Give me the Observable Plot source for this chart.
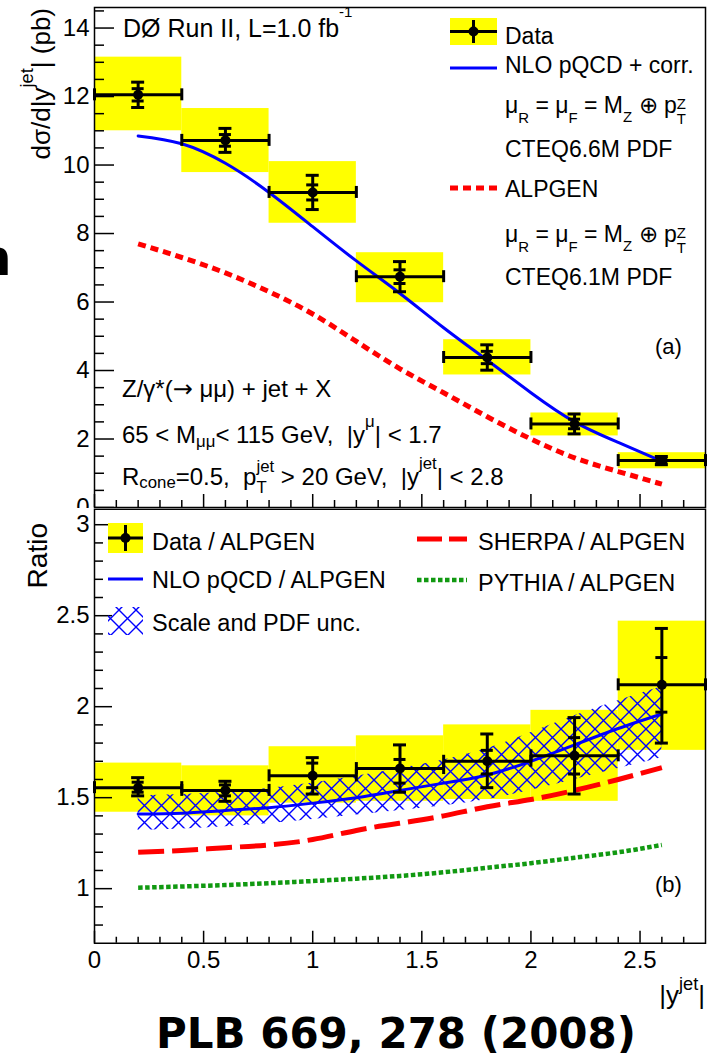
<!DOCTYPE html>
<html><head><meta charset="utf-8">
<script src="https://cdn.jsdelivr.net/npm/d3@7"></script>
<script src="https://cdn.jsdelivr.net/npm/@observablehq/plot@0.6"></script>
<style>
html,body{margin:0;padding:0;background:#fff;}
#wrap{position:relative;width:719px;height:1053px;overflow:hidden;background:#fff;}
#wrap svg{position:absolute;left:0;}
</style></head><body><div id="wrap"></div>
<script>
// ---------------- data ----------------
const binCenters = [0.2, 0.6, 1.0, 1.4, 1.8, 2.2, 2.6];
const binHalfWidth = 0.2;
// panel (a): dsigma/d|y_jet| (pb)
const xsecData  = [12.05, 10.72, 9.2, 6.74, 4.38, 2.44, 1.37];
const xsecStat  = [0.18, 0.17, 0.22, 0.2, 0.18, 0.14, 0.06];
const xsecTot   = [0.37, 0.35, 0.5, 0.44, 0.37, 0.29, 0.12];
const xsecSysLo = [11.0, 9.78, 8.3, 5.98, 3.87, 2.09, 1.13];
const xsecSysHi = [13.15, 11.65, 10.1, 7.44, 4.9, 2.76, 1.6];
const curveX     = [0.2, 0.4, 0.6, 0.8, 1.0, 1.2, 1.4, 1.6, 1.8, 2.0, 2.2, 2.4, 2.6];
const nloXsec    = [10.85, 10.62, 10.05, 9.2, 8.2, 7.2, 6.25, 5.25, 4.3, 3.35, 2.5, 1.9, 1.35];
const alpgenXsec = [7.7, 7.3, 6.85, 6.3, 5.65, 4.85, 4.05, 3.35, 2.65, 2.0, 1.45, 1.05, 0.68];
// panel (b): ratios to ALPGEN
const ratioData   = [1.555, 1.54, 1.62, 1.66, 1.70, 1.73, 2.12];
const ratioTotLo  = [1.51, 1.48, 1.52, 1.53, 1.555, 1.52, 1.80];
const ratioTotHi  = [1.61, 1.59, 1.72, 1.79, 1.85, 1.94, 2.43];
const ratioStatLo = [1.53, 1.51, 1.555, 1.58, 1.63, 1.63, 1.97];
const ratioStatHi = [1.585, 1.57, 1.69, 1.71, 1.76, 1.83, 2.27];
const ratioSysLo  = [1.42, 1.40, 1.47, 1.48, 1.49, 1.48, 1.76];
const ratioSysHi  = [1.69, 1.675, 1.78, 1.84, 1.90, 1.98, 2.47];
const nloRatio    = [1.41, 1.415, 1.43, 1.445, 1.47, 1.50, 1.54, 1.58, 1.625, 1.70, 1.79, 1.88, 1.96];
const uncBandLo   = [1.32, 1.34, 1.38, 1.43, 1.49, 1.60, 1.72];
const uncBandHi   = [1.51, 1.53, 1.58, 1.66, 1.77, 1.95, 2.11];
const sherpaRatio = [1.20, 1.21, 1.225, 1.24, 1.27, 1.32, 1.36, 1.40, 1.45, 1.49, 1.54, 1.60, 1.665];
const pythiaRatio = [1.005, 1.012, 1.02, 1.03, 1.042, 1.055, 1.07, 1.09, 1.115, 1.14, 1.17, 1.20, 1.24];
// ticks
const xMajorTicks = [0, 0.5, 1, 1.5, 2, 2.5];
const xMinorTicks = [0.1,0.2,0.3,0.4,0.6,0.7,0.8,0.9,1.1,1.2,1.3,1.4,1.6,1.7,1.8,1.9,2.1,2.2,2.3,2.4,2.6,2.7];
const topYMajor = [0, 2, 4, 6, 8, 10, 12, 14];
const topYMinor = [0.5,1,1.5,2.5,3,3.5,4.5,5,5.5,6.5,7,7.5,8.5,9,9.5,10.5,11,11.5,12.5,13,13.5,14.5];
const botYMajor = [1, 1.5, 2, 2.5, 3];
const botYMinor = [0.8,0.9,1.1,1.2,1.3,1.4,1.6,1.7,1.8,1.9,2.1,2.2,2.3,2.4,2.6,2.7,2.8,2.9];

// ---------------- layout ----------------
const W = 719, ML = 94, MR = 14;
const PW = W - ML - MR;
const FONT = "'Liberation Sans', Arial, Helvetica, sans-serif";
const DEJAVU = "'DejaVu Sans', sans-serif";
const YELLOW = "#ffff00", BLUE = "#0000ff", RED = "#ff0000", GREEN = "#119911";
const fmt = d => String(d);
const wrap = document.getElementById("wrap");

const topRows = binCenters.map((x, i) => ({
  x, xlo: x - binHalfWidth, xhi: x + binHalfWidth, y: xsecData[i],
  totLo: xsecData[i] - xsecTot[i], totHi: xsecData[i] + xsecTot[i],
  statLo: xsecData[i] - xsecStat[i], statHi: xsecData[i] + xsecStat[i],
  sysLo: xsecSysLo[i], sysHi: xsecSysHi[i]
}));
const botRows = binCenters.map((x, i) => ({
  x, xlo: x - binHalfWidth, xhi: x + binHalfWidth, y: ratioData[i],
  totLo: ratioTotLo[i], totHi: ratioTotHi[i], statLo: ratioStatLo[i], statHi: ratioStatHi[i],
  sysLo: ratioSysLo[i], sysHi: ratioSysHi[i]
}));
const topCurves = curveX.map((x, i) => ({x, nlo: nloXsec[i], alp: alpgenXsec[i]}));
const botCurves = curveX.map((x, i) => ({x, nlo: nloRatio[i], sherpa: sherpaRatio[i], pythia: pythiaRatio[i]}));
const bandRows = binCenters.map((x, i) => ({x, lo: uncBandLo[i], hi: uncBandHi[i]}));

function sysBoxes(rows) {
  return Plot.rect(rows, {x1: "xlo", x2: "xhi", y1: "sysLo", y2: "sysHi", fill: YELLOW});
}
function errorMarks(rows) {
  const k = {stroke: "black", strokeWidth: 3};
  return [
    Plot.ruleY(rows, {y: "y", x1: "xlo", x2: "xhi", ...k}),
    Plot.ruleX(rows, {x: "xlo", y1: "y", y2: "y", insetTop: -6, insetBottom: -6, ...k}),
    Plot.ruleX(rows, {x: "xhi", y1: "y", y2: "y", insetTop: -6, insetBottom: -6, ...k}),
    Plot.ruleX(rows, {x: "x", y1: "totLo", y2: "totHi", ...k}),
    Plot.ruleY(rows, {y: "totHi", x1: "x", x2: "x", insetLeft: -6.5, insetRight: -6.5, ...k}),
    Plot.ruleY(rows, {y: "totLo", x1: "x", x2: "x", insetLeft: -6.5, insetRight: -6.5, ...k}),
    Plot.ruleY(rows, {y: "statHi", x1: "x", x2: "x", insetLeft: -6, insetRight: -6, ...k}),
    Plot.ruleY(rows, {y: "statLo", x1: "x", x2: "x", insetLeft: -6, insetRight: -6, ...k}),
    Plot.dot(rows, {x: "x", y: "y", r: 5, fill: "black", stroke: "none"})
  ];
}

// ---------------- panel (a) ----------------
const TOP_H = 509, TOP_MT = 7, TOP_MB = 2;
const TOP_PH = TOP_H - TOP_MT - TOP_MB;
const topSvg = Plot.plot({
  width: W, height: TOP_H, marginLeft: ML, marginRight: MR, marginTop: TOP_MT, marginBottom: TOP_MB,
  style: {fontFamily: FONT, fontSize: "24px", background: "white", color: "black", overflow: "hidden"},
  x: {domain: [0, 2.8], axis: null},
  y: {domain: [0, 14.6], ticks: topYMajor, tickFormat: fmt, tickSize: 0, tickPadding: 5, label: null},
  marks: [
    sysBoxes(topRows),
    Plot.line(topCurves, {x: "x", y: "alp", stroke: RED, strokeWidth: 5, strokeDasharray: "8,5", strokeLinecap: "butt", curve: "natural"}),
    Plot.line(topCurves, {x: "x", y: "nlo", stroke: BLUE, strokeWidth: 3, curve: "natural"}),
    ...errorMarks(topRows),
    Plot.tickY(topYMajor, {y: d => d, insetRight: PW - 20, strokeWidth: 1.5}),
    Plot.tickY(topYMinor, {y: d => d, insetRight: PW - 10, strokeWidth: 1.5}),
    Plot.tickX(xMajorTicks, {x: d => d, insetTop: TOP_PH - 13, strokeWidth: 1.5}),
    Plot.tickX(xMinorTicks, {x: d => d, insetTop: TOP_PH - 7, strokeWidth: 1.5}),
    Plot.frame({stroke: "black", strokeWidth: 1.5})
  ]
});
topSvg.style.top = "0px";
wrap.appendChild(topSvg);

// ---------------- panel (b) ----------------
const BOT_TOP = 508, BOT_H = 545, BOT_MT = 0.75, BOT_MB = 110.25;
const BOT_PH = BOT_H - BOT_MT - BOT_MB;
const botSvg = Plot.plot({
  width: W, height: BOT_H, marginLeft: ML, marginRight: MR, marginTop: BOT_MT, marginBottom: BOT_MB,
  style: {fontFamily: FONT, fontSize: "24px", background: "white", color: "black"},
  x: {domain: [0, 2.8], ticks: xMajorTicks, tickFormat: fmt, tickSize: 0, tickPadding: 8, label: null},
  y: {domain: [0.7, 3.085], ticks: botYMajor, tickFormat: fmt, tickSize: 0, tickPadding: 5, label: null},
  marks: [
    sysBoxes(botRows),
    Plot.areaY(bandRows, {x: "x", y1: "lo", y2: "hi", fill: "url(#xhatch)", curve: "natural"}),
    Plot.line(botCurves, {x: "x", y: "pythia", stroke: GREEN, strokeWidth: 4.5, strokeDasharray: "4.5,2.5", strokeLinecap: "butt", curve: "natural"}),
    Plot.line(botCurves, {x: "x", y: "sherpa", stroke: RED, strokeWidth: 5, strokeDasharray: "26,8", strokeLinecap: "butt", curve: "natural"}),
    Plot.line(botCurves, {x: "x", y: "nlo", stroke: BLUE, strokeWidth: 3, curve: "natural"}),
    ...errorMarks(botRows),
    Plot.tickY(botYMajor, {y: d => d, insetRight: PW - 18, strokeWidth: 1.5}),
    Plot.tickY(botYMinor, {y: d => d, insetRight: PW - 9, strokeWidth: 1.5}),
    Plot.tickX(xMajorTicks, {x: d => d, insetTop: BOT_PH - 12, strokeWidth: 1.5}),
    Plot.tickX(xMinorTicks, {x: d => d, insetTop: BOT_PH - 6, strokeWidth: 1.5}),
    Plot.frame({stroke: "black", strokeWidth: 1.5})
  ]
});
botSvg.style.top = BOT_TOP + "px";
wrap.appendChild(botSvg);

// hatch pattern
const defs = d3.select(botSvg).insert("defs", ":first-child");
const pat = defs.append("pattern").attr("id", "xhatch").attr("patternUnits", "userSpaceOnUse")
  .attr("width", 17).attr("height", 17);
pat.append("path").attr("d", "M0,0L17,17M17,0L0,17").attr("stroke", BLUE).attr("stroke-width", 1.4).attr("fill", "none");

// ---------------- rich text helper ----------------
function seg(t, f = 1, dy = 0, fam = null) { return {t, f, dy, fam}; }
function rich(svg, x, y, segs, size, opt = {}) {
  const g = d3.select(svg).append("g")
    .attr("transform", `translate(${x},${y})` + (opt.rotate ? ` rotate(${opt.rotate})` : ""));
  const inner = g.append("g");
  const fam = opt.family || FONT;
  const mk = (s, cx) => inner.append("text")
    .attr("x", cx).attr("y", s.dy).attr("font-size", size * s.f)
    .attr("font-family", s.fam || fam).attr("font-weight", opt.weight || "normal")
    .attr("text-anchor", "start")
    .attr("fill", "black").style("white-space", "pre").text(s.t);
  let cx = 0;
  for (const s of segs) {
    if (s.stack) {
      const w = s.stack.map(q => mk(q, cx).node().getComputedTextLength());
      cx += Math.max(...w);
    } else {
      cx += mk(s, cx).node().getComputedTextLength();
    }
  }
  if (opt.anchor === "end") inner.attr("transform", `translate(${-cx},0)`);
  if (opt.anchor === "middle") inner.attr("transform", `translate(${-cx / 2},0)`);
  return cx;
}

// ---------------- panel (a) texts & legend ----------------
rich(topSvg, 50, 8, [seg("dσ/d|y"), seg("jet", 0.7, -17), seg("| (pb)")], 26, {rotate: -90, anchor: "end"});
rich(topSvg, 123, 37, [seg("DØ Run II, L=1.0 fb"), seg("-1", 0.6, -20)], 25);
rich(topSvg, 655, 354, [seg("(a)")], 22);
rich(topSvg, 122, 397, [seg("Z/γ*("), seg("→", 1, 0, DEJAVU), seg(" μμ) + jet + X")], 24);
rich(topSvg, 122, 443, [seg("65 < M"), seg("μμ", 0.7, 4), seg("< 115 GeV,  |y"), seg("μ", 0.7, -16), seg("| < 1.7")], 24);
rich(topSvg, 122, 485, [seg("R"), seg("cone", 0.7, 3), seg("=0.5,  p"),
  {stack: [seg("jet", 0.7, -13), seg("T", 0.7, 8)]}, seg(" > 20 GeV,  |y"), seg("jet", 0.7, -16), seg("| < 2.8")], 24);

const muLine = [seg("μ"), seg("R", 0.65, 10), seg(" = μ"), seg("F", 0.65, 10), seg(" = M"), seg("Z", 0.65, 9),
  seg(" ⊕ p"), {stack: [seg("Z", 0.65, -4.5), seg("T", 0.65, 10.5)]}];
const topLeg = d3.select(topSvg).append("g");
topLeg.append("rect").attr("x", 450).attr("y", 18).attr("width", 47).attr("height", 27).attr("fill", YELLOW);
topLeg.append("line").attr("x1", 450).attr("x2", 497).attr("y1", 31.5).attr("y2", 31.5).attr("stroke", "black").attr("stroke-width", 3);
topLeg.append("line").attr("x1", 473.5).attr("x2", 473.5).attr("y1", 20).attr("y2", 43).attr("stroke", "black").attr("stroke-width", 3);
topLeg.append("circle").attr("cx", 473.5).attr("cy", 31.5).attr("r", 5).attr("fill", "black");
topLeg.append("line").attr("x1", 450).attr("x2", 497).attr("y1", 68).attr("y2", 68).attr("stroke", BLUE).attr("stroke-width", 3);
topLeg.append("line").attr("x1", 450).attr("x2", 497).attr("y1", 188).attr("y2", 188).attr("stroke", RED).attr("stroke-width", 5).attr("stroke-dasharray", "8,5");
rich(topSvg, 505, 44, [seg("Data")], 23);
rich(topSvg, 505, 73, [seg("NLO pQCD + corr.")], 23);
rich(topSvg, 505, 113, muLine, 23);
rich(topSvg, 505, 157, [seg("CTEQ6.6M PDF")], 23);
rich(topSvg, 505, 197, [seg("ALPGEN")], 23);
rich(topSvg, 505, 242, muLine, 23);
rich(topSvg, 505, 285, [seg("CTEQ6.1M PDF")], 23);
// cropped glyph at the left edge
rich(topSvg, -24, 275, [seg("n")], 50, {family: DEJAVU, weight: "bold"});

// ---------------- panel (b) texts & legend ----------------
const O = BOT_TOP;
rich(botSvg, 47, 523 - O, [seg("Ratio")], 28, {rotate: -90, anchor: "end"});
rich(botSvg, 655, 892 - O, [seg("(b)")], 22);
rich(botSvg, 705, 1004 - O, [seg("|y"), seg("jet", 0.7, -14), seg("|")], 26, {anchor: "end"});
const botLeg = d3.select(botSvg).append("g");
botLeg.append("rect").attr("x", 108).attr("y", 523 - O).attr("width", 35).attr("height", 30).attr("fill", YELLOW);
botLeg.append("line").attr("x1", 108).attr("x2", 143).attr("y1", 538 - O).attr("y2", 538 - O).attr("stroke", "black").attr("stroke-width", 3);
botLeg.append("line").attr("x1", 125.5).attr("x2", 125.5).attr("y1", 525 - O).attr("y2", 551 - O).attr("stroke", "black").attr("stroke-width", 3);
botLeg.append("circle").attr("cx", 125.5).attr("cy", 538 - O).attr("r", 5).attr("fill", "black");
botLeg.append("line").attr("x1", 108).attr("x2", 143).attr("y1", 579 - O).attr("y2", 579 - O).attr("stroke", BLUE).attr("stroke-width", 3);
botLeg.append("rect").attr("x", 108).attr("y", 607 - O).attr("width", 35).attr("height", 28).attr("fill", "url(#xhatch)");
botLeg.append("line").attr("x1", 417).attr("x2", 467).attr("y1", 539 - O).attr("y2", 539 - O).attr("stroke", RED).attr("stroke-width", 5).attr("stroke-dasharray", "25,7");
botLeg.append("line").attr("x1", 417).attr("x2", 467).attr("y1", 580 - O).attr("y2", 580 - O).attr("stroke", GREEN).attr("stroke-width", 4.5).attr("stroke-dasharray", "4.5,2.5");
rich(botSvg, 152, 550 - O, [seg("Data / ALPGEN")], 23.5);
rich(botSvg, 152, 588 - O, [seg("NLO pQCD / ALPGEN")], 23.5);
rich(botSvg, 152, 631 - O, [seg("Scale and PDF unc.")], 23.5);
rich(botSvg, 478, 550 - O, [seg("SHERPA / ALPGEN")], 23.5);
rich(botSvg, 478, 591 - O, [seg("PYTHIA / ALPGEN")], 23.5);

// reference caption
rich(botSvg, 396, 1048 - O, [seg("PLB 669, 278 (2008)")], 42, {family: DEJAVU, weight: "bold", anchor: "middle"});
</script>
</body></html>
